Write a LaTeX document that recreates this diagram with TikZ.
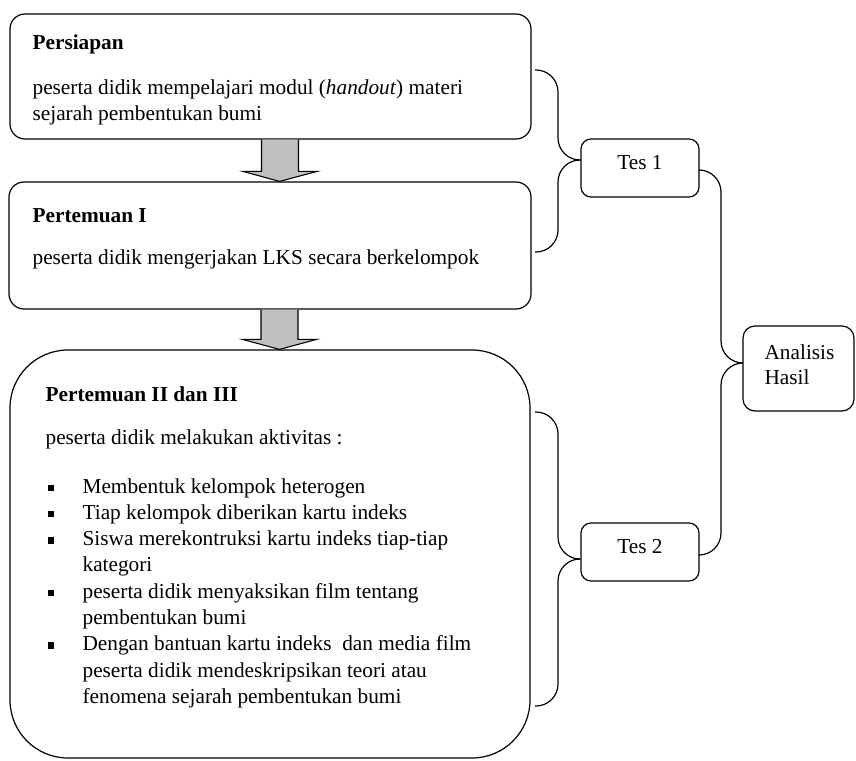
\documentclass[tikz,border=0pt]{standalone}
\usepackage{fontspec}
\setmainfont{Liberation Serif}
\usetikzlibrary{calc}
\begin{document}
\begin{tikzpicture}[x=1pt,y=-1pt,
  font=\fontsize{21.3}{26}\selectfont,
  line width=1.2pt,
  box/.style={draw,fill=white,inner sep=0pt,rounded corners=#1},
  box/.default=15pt,
  txt/.style={anchor=base west,inner sep=0pt},
  ctxt/.style={anchor=base,inner sep=0pt},
  blockarrow/.style={draw,fill=arrowgray,line width=1.1pt,line join=miter},
  brace/.style={draw,rounded corners=22pt},
  bul/.style={anchor=base west,inner sep=0pt}]
\definecolor{arrowgray}{HTML}{C0C0C0}
\useasboundingbox (0,0) rectangle (856,760);

% boxes
\node[box, minimum width=521pt, minimum height=125pt] (persiapan) at (270.5,76.5) {};
\node[box, minimum width=522pt, minimum height=127pt] (pert1) at (270,245.5) {};
\node[box=58pt, minimum width=520pt, minimum height=408pt] (pert2) at (270,554) {};
\node[box=10pt, minimum width=118pt, minimum height=58pt] (tes1) at (640,168) {};
\node[box=10pt, minimum width=118pt, minimum height=58pt] (tes2) at (640,552) {};
\node[box=12pt, minimum width=111pt, minimum height=85pt] (hasil) at (798.5,368.5) {};

% block arrows
\draw[blockarrow] let \p1=([xshift=9.5pt]persiapan.south), \p2=([xshift=9.5pt]pert1.north) in
  (\x1-18.5pt,\y1) -- (\x1-18.5pt,\y2+10pt) -- (\x1-37pt,\y2+10pt) -- (\x2,\y2)
  -- (\x1+37pt,\y2+10pt) -- (\x1+18.5pt,\y2+10pt) -- (\x1+18.5pt,\y1);
\draw[blockarrow] let \p1=([xshift=9.5pt]pert1.south), \p2=([xshift=9.5pt]pert2.north) in
  (\x1-18.5pt,\y1) -- (\x1-18.5pt,\y2+10pt) -- (\x1-37pt,\y2+10pt) -- (\x2,\y2)
  -- (\x1+37pt,\y2+10pt) -- (\x1+18.5pt,\y2+10pt) -- (\x1+18.5pt,\y1);

% braces and connectors
\coordinate (b1a) at (535,70);
\coordinate (b1b) at (535,252);
\coordinate (bx) at (558,0);
\coordinate (t1w) at ([yshift=8pt]tes1.west);
\draw[brace] (b1a) -| (bx |- t1w) -- (t1w);
\draw[brace] (t1w) -| (bx |- b1b) -- (b1b);

\coordinate (b2a) at (535,412);
\coordinate (b2b) at (535,706);
\coordinate (t2w) at ([yshift=-7pt]tes2.west);
\draw[brace] (b2a) -| (bx |- t2w) -- (t2w);
\draw[brace] (t2w) -| (bx |- b2b) -- (b2b);

\coordinate (rx) at (721,0);
\coordinate (t1e) at ([yshift=-2pt]tes1.east);
\coordinate (hw) at ([yshift=5.5pt]hasil.west);
\coordinate (t2e) at ([yshift=-3pt]tes2.east);
\draw[brace] (t1e) -| (rx |- hw) -- (hw);
\draw[brace] (hw) -| (rx |- t2e) -- (t2e);

% texts box 1
\node[txt] (h1) at (32,50) {\textbf{Persiapan}};
\node[txt] (p1a) at (32,94) {peserta didik mempelajari modul (\textit{handout}) materi};
\node[txt] (p1b) at (32,120) {sejarah pembentukan bumi};
% box 2
\node[txt] (h2) at (32,222) {\textbf{Pertemuan I}};
\node[txt] (p2a) at (32,264) {peserta didik mengerjakan LKS secara berkelompok};
% box 3
\node[txt] (h3) at (45,401) {\textbf{Pertemuan II dan III}};
\node[txt] (p3) at (45,444) {peserta didik melakukan aktivitas :};
\node[bul] (u1) at (47,493) {\rule[2pt]{6.5pt}{6.5pt}};
\node[txt] (i1) at (82,493) {Membentuk kelompok heterogen};
\node[bul] (u2) at (47,519.3) {\rule[2pt]{6.5pt}{6.5pt}};
\node[txt] (i2) at (82,519.3) {Tiap kelompok diberikan kartu indeks};
\node[bul] (u3) at (47,545.6) {\rule[2pt]{6.5pt}{6.5pt}};
\node[txt] (i3a) at (82,545.6) {Siswa merekontruksi kartu indeks tiap-tiap};
\node[txt] (i3b) at (82,571.9) {kategori};
\node[bul] (u4) at (47,598.2) {\rule[2pt]{6.5pt}{6.5pt}};
\node[txt] (i4a) at (82,598.2) {peserta didik menyaksikan film tentang};
\node[txt] (i4b) at (82,624.5) {pembentukan bumi};
\node[bul] (u5) at (47,650.8) {\rule[2pt]{6.5pt}{6.5pt}};
\node[txt] (i5a) at (82,650.8) {Dengan bantuan kartu indeks\ \ dan media film};
\node[txt] (i5b) at (82,677.1) {peserta didik mendeskripsikan teori atau};
\node[txt] (i5c) at (82,703.4) {fenomena sejarah pembentukan bumi};

% side texts
\node[ctxt] (tt1) at (640,169) {Tes 1};
\node[ctxt] (tt2) at (640,553) {Tes 2};
\node[txt] (ha) at (764,359) {Analisis};
\node[txt] (hb) at (764,384) {Hasil};
\end{tikzpicture}
\end{document}
